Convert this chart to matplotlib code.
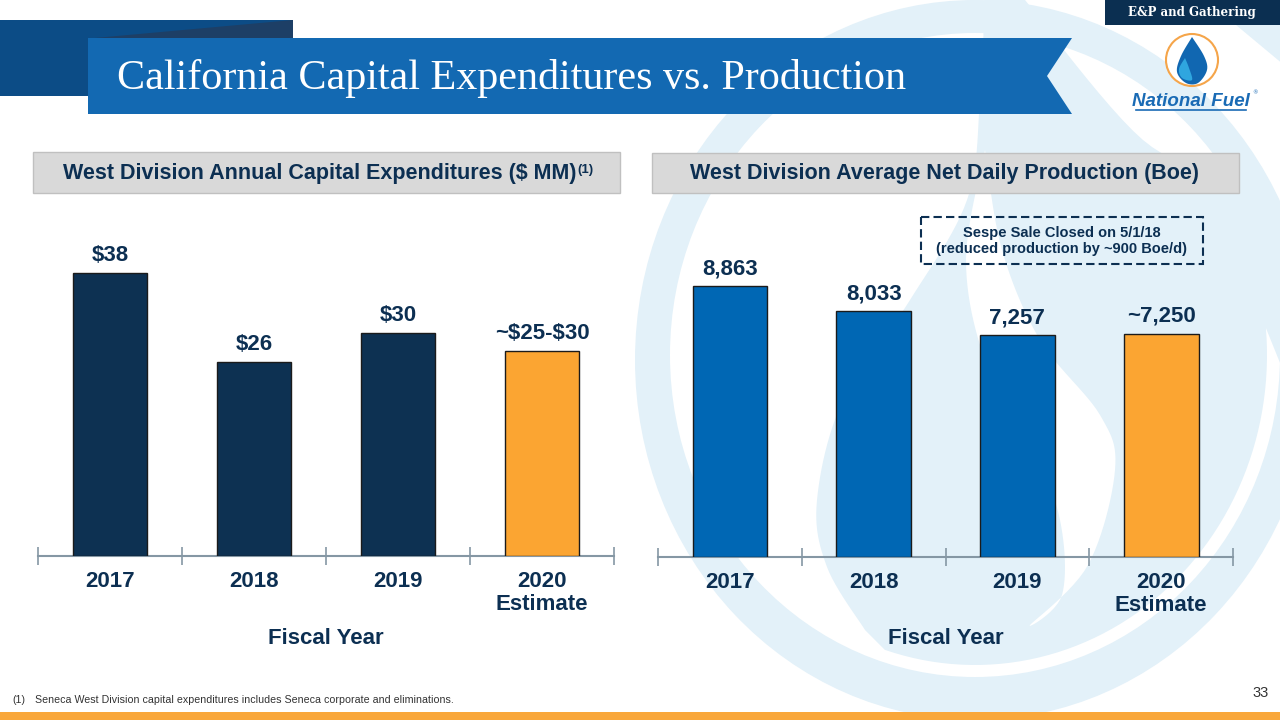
import numpy as np
import matplotlib.pyplot as plt
from matplotlib.patches import Rectangle, Polygon, Circle, Ellipse

# ---- data ----
years = ['2017', '2018', '2019', '2020\nEstimate']
capex = [38, 26, 30, 27.5]
capex_labels = [r'\$38', r'\$26', r'\$30', r'~\$25-\$30']
boe = [8863, 8033, 7257, 7300]
boe_labels = ['8,863', '8,033', '7,257', '~7,250']
is_estimate = [False, False, False, True]

NAVY = '#0c2f52'
DARK_BAR = '#0d3152'
BLUE_BAR = '#0067b4'
ORANGE = '#fba532'
AXIS_GRAY = '#8597a4'
WATER = '#e3f1f9'

plt.rcParams['font.family'] = ['Liberation Sans', 'DejaVu Sans']

W, H = 1280, 720
fig = plt.figure(figsize=(12.8, 7.2), dpi=100)

# background layer in pixel coordinates (y down)
bg = fig.add_axes([0, 0, 1, 1], zorder=0)
bg.set_xlim(0, W)
bg.set_ylim(H, 0)
bg.axis('off')


def smooth(pts, n=12):
    # catmull-rom through the guide points
    p = np.asarray(pts, float)
    p = np.vstack([p[0], p, p[-1]])
    out = []
    for i in range(1, len(p) - 2):
        p0, p1, p2, p3 = p[i - 1], p[i], p[i + 1], p[i + 2]
        for t in np.linspace(0, 1, n, endpoint=False):
            out.append(0.5 * (2 * p1 + (-p0 + p2) * t + (2 * p0 - 5 * p1 + 4 * p2 - p3) * t ** 2
                              + (-p0 + 3 * p1 - 3 * p2 + p3) * t ** 3))
    out.append(p[-2])
    return np.array(out)


def arc(cx, cy, rx, ry, a0, a1, n=60):
    a = np.radians(np.linspace(a0, a1, n))
    return np.column_stack([cx + rx * np.cos(a), cy + ry * np.sin(a)])


# watermark (faded logo)
bg.add_patch(Ellipse((975, 360), 680, 720, fc=WATER, ec='none'))
bg.add_patch(Ellipse((975, 355), 610, 644, fc='white', ec='none'))
flame_left = smooth([(985, -10), (980, 100), (967, 200), (910, 300), (843, 400),
                     (817, 500), (827, 567), (865, 630)])
flame_bottom = arc(975, 355, 292, 310, 108, -5)
flame_right = smooth([(1295, 360), (1295, 230), (1240, 180), (1143, 140), (1017, -10)])
bg.add_patch(Polygon(np.vstack([flame_left, flame_bottom, [(1295, 400)], flame_right]),
                     fc=WATER, ec='none'))
s_curve = smooth([(985, 150), (966, 260), (985, 360), (1030, 440), (1060, 520),
                  (1062, 595), (1030, 625), (1088, 565), (1115, 470), (1100, 415),
                  (1040, 340), (1002, 250), (985, 150)])
bg.add_patch(Polygon(s_curve, fc='white', ec='none'))
bg.add_patch(Polygon([(1200, -5), (1290, -5), (1290, 70)], fc=WATER, ec='none'))

# title banner
bg.add_patch(Rectangle((0, 20), 293, 76, fc='#0c4c86', ec='none'))
bg.add_patch(Polygon([(95, 38), (293, 20), (293, 38)], fc='#1d3f66', ec='none'))
bg.add_patch(Polygon([(88, 38), (1072, 38), (1047, 76), (1072, 114), (88, 114)],
                     fc='#1369b2', ec='none'))
bg.text(117, 89, 'California Capital Expenditures vs. Production', color='white',
        fontsize=30.3, family='Liberation Serif', va='baseline', ha='left')

# section tab
bg.add_patch(Rectangle((1105, 0), 175, 25, fc='#0b2f51', ec='none'))
bg.text(1192, 12.5, 'E&P and Gathering', color='white', fontsize=8.5,
        family='DejaVu Serif', weight='bold', ha='center', va='center')

# logo
bg.add_patch(Circle((1192, 60), 26, fc='white', ec='#f5a54a', lw=1.5))
logo_drop = smooth([(1192, 37), (1204, 56), (1207, 70), (1198, 83), (1186, 83),
                    (1177, 72), (1181, 56), (1192, 37)], n=8)
bg.add_patch(Polygon(logo_drop, fc='#1167b1', ec='none'))
logo_flame = smooth([(1185, 58), (1189, 68), (1192, 80), (1182, 78), (1179, 69), (1185, 58)], n=8)
bg.add_patch(Polygon(logo_flame, fc='#2fa6df', ec='none'))
bg.text(1191, 101, 'National Fuel', color='#1a6bb5', fontsize=13.5, style='italic',
        weight='bold', ha='center', va='center')
bg.text(1252, 93, '\u00ae', color='#1a6bb5', fontsize=4, family='DejaVu Sans',
        ha='left', va='center')
bg.plot([1136, 1246], [110, 110], color='#1a6bb5', lw=1.2)

# section headers
bg.add_patch(Rectangle((33, 152), 587, 41, fc='#d9d9d9', ec='#c0c0c0', lw=1))
t1 = bg.text(63, 173, 'West Division Annual Capital Expenditures ($ MM)', color=NAVY,
             fontsize=15.5, weight='bold', ha='left', va='center')
bg.annotate('(1)', xy=(1, 0.92), xycoords=t1, xytext=(0.5, 0), textcoords='offset points',
            ha='left', va='top', fontsize=9.5, weight='bold', color=NAVY)
bg.add_patch(Rectangle((652, 153), 587, 40, fc='#d9d9d9', ec='#c0c0c0', lw=1))
bg.text(945, 173, 'West Division Average Net Daily Production (Boe)', color=NAVY,
        fontsize=15.5, weight='bold', ha='center', va='center')

# callout
bg.add_patch(Rectangle((921, 217), 282, 47, fc='none', ec=NAVY, lw=1.5,
                       linestyle=(0, (4, 2))))
bg.text(1062, 241, 'Sespe Sale Closed on 5/1/18\n(reduced production by ~900 Boe/d)',
        color=NAVY, fontsize=10.5, weight='bold', ha='center', va='center',
        linespacing=1.2)

# footer
bg.text(12, 700, '(1)', color='#333333', fontsize=7.7, ha='left', va='center')
bg.text(35, 700, 'Seneca West Division capital expenditures includes Seneca corporate and eliminations.',
        color='#333333', fontsize=7.7, ha='left', va='center')
bg.text(1269, 693, '33', color='#333333', fontsize=10.5, ha='right', va='center')
bg.add_patch(Rectangle((0, 712), W, 8, fc='#f9a73a', ec='none'))


def bar_panel(rect_px, values, labels, color, px_per_unit):
    x0, ybase, wpx, hpx = rect_px
    ax = fig.add_axes([x0 / W, (H - ybase) / H, wpx / W, hpx / H], zorder=2)
    ax.patch.set_alpha(0)
    cols = [ORANGE if e else color for e in is_estimate]
    xs = list(range(len(values)))
    ax.bar(xs, values, width=0.52, color=cols, edgecolor='#1b1b1b', lw=1, zorder=3)
    for x, v, lab in zip(xs, values, labels):
        ax.annotate(lab, xy=(x, v), xytext=(0, 5), textcoords='offset points',
                    ha='center', va='bottom', fontsize=16, weight='bold', color=NAVY)
    ax.set_xlim(-0.5, len(values) - 0.5)
    ax.set_ylim(0, hpx / px_per_unit)
    for s in ['top', 'right', 'left']:
        ax.spines[s].set_visible(False)
    ax.spines['bottom'].set_color(AXIS_GRAY)
    ax.spines['bottom'].set_linewidth(1.5)
    ax.set_yticks([])
    ax.set_xticks([x - 0.5 for x in range(len(values) + 1)])
    ax.set_xticklabels([])
    ax.tick_params(axis='x', which='major', direction='inout', length=13, width=1.2,
                   color=AXIS_GRAY)
    ax.set_xticks(xs, minor=True)
    ax.set_xticklabels(years, minor=True, fontsize=16, weight='bold', color=NAVY,
                       linespacing=1.1, va='top')
    ax.tick_params(axis='x', which='minor', length=0, pad=11)
    ax.text(0.5, -(638 - ybase) / hpx, 'Fiscal Year', transform=ax.transAxes,
            ha='center', va='center', fontsize=16, weight='bold', color=NAVY)
    return ax


bar_panel((38, 556, 576, 340), capex, capex_labels, DARK_BAR, 283 / 38)
bar_panel((658, 557, 575, 340), boe, boe_labels, BLUE_BAR, 271 / 8863)

fig.savefig('out.png', dpi=100)
